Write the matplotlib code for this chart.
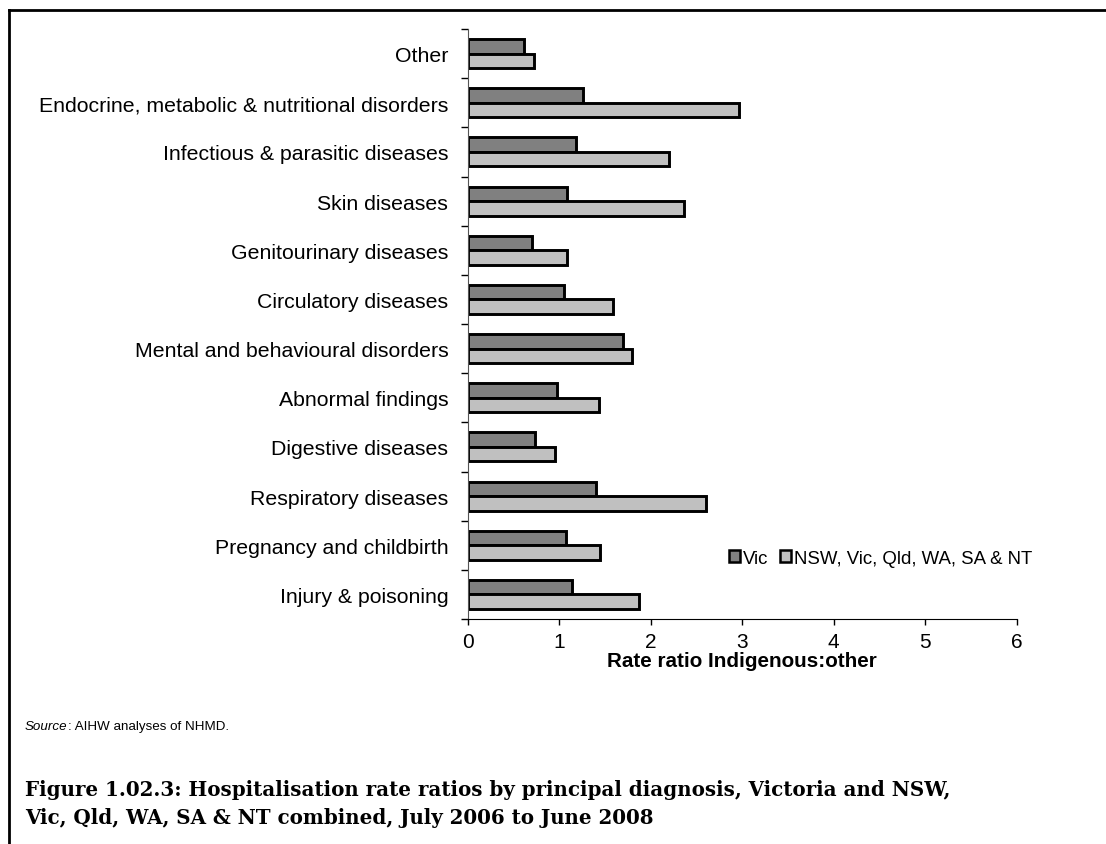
import matplotlib
matplotlib.use("Agg")
import matplotlib.pyplot as plt
import numpy as np
from matplotlib.lines import Line2D

# categories top to bottom
categories = [
    "Other",
    "Endocrine, metabolic & nutritional disorders",
    "Infectious & parasitic diseases",
    "Skin diseases",
    "Genitourinary diseases",
    "Circulatory diseases",
    "Mental and behavioural disorders",
    "Abnormal findings",
    "Digestive diseases",
    "Respiratory diseases",
    "Pregnancy and childbirth",
    "Injury & poisoning",
]
vic = [0.62, 1.26, 1.18, 1.08, 0.70, 1.05, 1.70, 0.98, 0.74, 1.40, 1.07, 1.14]
combined = [0.73, 2.97, 2.20, 2.36, 1.09, 1.59, 1.80, 1.43, 0.95, 2.60, 1.45, 1.87]
series_names = ["Vic", "NSW, Vic, Qld, WA, SA & NT"]

plt.rcParams['font.family'] = ['Liberation Sans', 'DejaVu Sans']

W, H = 1106, 845
fig = plt.figure(figsize=(W / 100, H / 100), dpi=100)
ax = fig.add_axes([467.7 / W, 1 - 620 / H, (1016.7 - 467.7) / W, (620 - 30) / H])

y = np.arange(len(categories))
h = 0.295
ax.barh(y - h / 2, vic, height=h, color="#808080", edgecolor="black", linewidth=2.1, label=series_names[0])
ax.barh(y + h / 2, combined, height=h, color="#c0c0c0", edgecolor="black", linewidth=2.1, label=series_names[1])

ax.set_xlim(0, 6)
ax.set_ylim(len(categories) - 0.5, -0.5)
ax.set_xticks(range(0, 7))
ax.tick_params(axis="x", direction="out", length=4.5, width=1, labelsize=15, pad=5)
ax.set_yticks(y)
ax.set_yticklabels(categories)
ax.set_yticks(np.arange(len(categories) + 1) - 0.5, minor=True)
ax.tick_params(axis="y", which="major", length=0, labelsize=15.3, pad=14)
ax.tick_params(axis="y", which="minor", direction="out", length=5, width=1)
for s in ["top", "right"]:
    ax.spines[s].set_visible(False)
ax.spines["left"].set_color("#555555")
ax.spines["bottom"].set_color("black")

ax.set_xlabel("Rate ratio Indigenous:other", fontsize=14.9, fontweight="bold", labelpad=0)

leg = ax.legend(loc="upper left", bbox_to_anchor=(0.462, 0.13), ncol=2, frameon=False,
                fontsize=13.4, handlelength=0.6, handleheight=0.6, handletextpad=0.18,
                columnspacing=0.6, borderaxespad=0)
for p in leg.get_patches():
    p.set_linewidth(1.8)

# frame around figure (left and top only)
fig.add_artist(Line2D([9 / W, 9 / W], [0, 1 - 11 / H], color="black", linewidth=2))
fig.add_artist(Line2D([9 / W, 1], [1 - 11 / H, 1 - 11 / H], color="black", linewidth=2))

src = fig.text(25 / W, 1 - 727 / H, "Source", fontsize=9.6, style="italic", va="center")
fig.canvas.draw()
bb = src.get_window_extent(fig.canvas.get_renderer())
fig.text(bb.x1 / W, 1 - 727 / H, ": AIHW analyses of NHMD.", fontsize=9.6, va="center")

serif = ["DejaVu Serif", "Liberation Serif"]
fig.text(25 / W, 1 - 790 / H,
         "Figure 1.02.3: Hospitalisation rate ratios by principal diagnosis, Victoria and NSW,",
         fontsize=14.3, fontweight="bold", family=serif, va="center")
fig.text(25 / W, 1 - 818 / H,
         "Vic, Qld, WA, SA & NT combined, July 2006 to June 2008",
         fontsize=14.3, fontweight="bold", family=serif, va="center")

fig.savefig("out.png", dpi=100)
